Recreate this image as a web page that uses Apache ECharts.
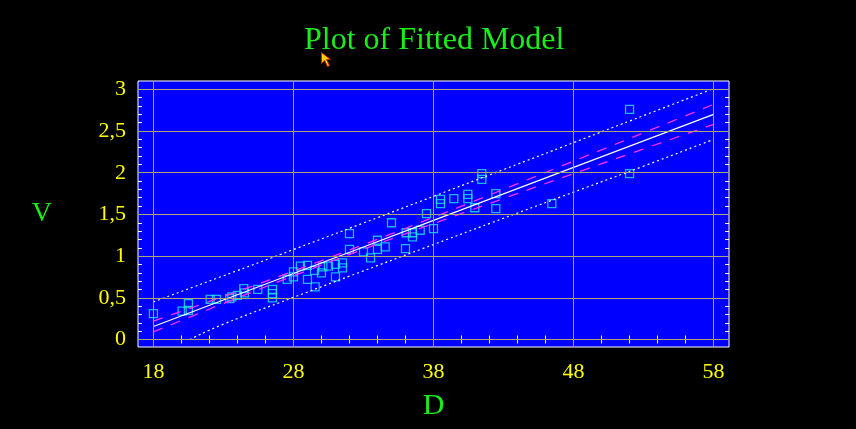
<!DOCTYPE html>
<html>
<head>
<meta charset="utf-8">
<script src="https://cdn.jsdelivr.net/npm/echarts@6/dist/echarts.min.js"></script>
<style>
html,body{margin:0;padding:0;background:#000;}
#chart{width:856px;height:429px;}
</style>
</head>
<body>
<div id="chart"></div>
<script>
// Observed data (D, V)
var D = [18.0, 20.05, 20.5, 20.5, 22.05, 22.5, 23.45, 23.6, 24.0, 24.45, 24.5, 25.45, 26.5, 26.5, 26.5, 27.55, 28.0, 28.0, 28.5, 29.0, 29.0, 29.5, 29.55, 30.0, 30.1, 30.5, 31.0, 31.0, 31.5, 31.5, 32.0, 32.0, 33.0, 33.5, 34.0, 34.0, 34.55, 35.0, 36.0, 36.05, 36.5, 36.5, 37.05, 37.5, 38.0, 38.5, 38.5, 39.45, 40.45, 40.45, 40.95, 41.45, 41.45, 42.45, 42.45, 46.45, 52.0, 52.0];
var V = [0.31, 0.34, 0.43, 0.35, 0.48, 0.48, 0.49, 0.51, 0.53, 0.61, 0.56, 0.60, 0.60, 0.55, 0.50, 0.72, 0.81, 0.75, 0.88, 0.89, 0.72, 0.83, 0.63, 0.80, 0.87, 0.88, 0.90, 0.75, 0.92, 0.86, 1.27, 1.08, 1.05, 0.98, 1.19, 1.08, 1.11, 1.40, 1.09, 1.28, 1.28, 1.23, 1.31, 1.51, 1.33, 1.68, 1.63, 1.69, 1.74, 1.69, 1.58, 1.99, 1.92, 1.75, 1.57, 1.63, 2.76, 1.99];

// Fitted line and limits
var bandX      = [18, 23, 28, 33, 38, 43, 48, 53, 58];
var fitV       = [0.156, 0.474, 0.792, 1.110, 1.428, 1.746, 2.064, 2.382, 2.700];
var confUpper  = [0.221, 0.516, 0.821, 1.137, 1.466, 1.801, 2.139, 2.479, 2.820];
var confLower  = [0.091, 0.432, 0.763, 1.083, 1.390, 1.691, 1.989, 2.285, 2.580];
var predUpper  = [0.451, 0.764, 1.079, 1.397, 1.717, 2.038, 2.361, 2.685, 3.010];
var predLowerX = [20.6, 23, 28, 33, 38, 43, 48, 53, 58];
var predLower  = [0.000, 0.184, 0.505, 0.823, 1.139, 1.454, 1.767, 2.079, 2.400];

// Tick labels
var xTicks = [18, 28, 38, 48, 58];
var yTicks = [0, 0.5, 1, 1.5, 2, 2.5, 3];

var xMinor = []; for (var i = 18; i <= 58; i += 2) xMinor.push(i);
var yMinor = []; for (var j = 0; j <= 30; j++) yMinor.push(+(j / 10).toFixed(1));

function pairs(xs, ys) { return xs.map(function (x, k) { return [x, ys[k]]; }); }

var serif = '"Liberation Serif", "Times New Roman", serif';
var yellow = '#ffff00';
var green = '#1aee1a';
var gridColor = '#a8a878';

function xAx(pos, labels) {
  return {
    type: 'value', min: 16.9, max: 59.1, position: pos,
    name: labels ? 'D' : '', nameLocation: 'middle', nameGap: 44,
    nameTextStyle: { color: green, fontSize: 30, fontFamily: serif },
    axisLine: { show: false },
    axisTick: { show: true, inside: true, length: 4, customValues: xMinor, lineStyle: { color: '#ffffff', width: 1 } },
    axisLabel: labels ? { show: true, customValues: xTicks, color: yellow, fontSize: 22, fontFamily: serif, margin: 14 } : { show: false },
    splitLine: { show: false }
  };
}
function yAx(pos, labels) {
  return {
    type: 'value', min: -0.09, max: 3.1, position: pos,
    name: labels ? 'V' : '', nameLocation: 'middle', nameGap: 86, nameRotate: 0,
    nameTextStyle: { color: green, fontSize: 28, fontFamily: serif },
    axisLine: { show: false },
    axisTick: { show: true, inside: true, length: 4, customValues: yMinor, lineStyle: { color: '#ffffff', width: 1 } },
    axisLabel: labels ? { show: true, customValues: yTicks, color: yellow, fontSize: 22, fontFamily: serif, margin: 12,
      formatter: function (v) { return String(v).replace('.', ','); } } : { show: false },
    splitLine: { show: false }
  };
}

var chart = echarts.init(document.getElementById('chart'), null, { renderer: 'canvas' });
chart.setOption({
  backgroundColor: '#000000',
  animation: false,
  title: {
    text: 'Plot of Fitted Model', left: 299, top: 20,
    textStyle: { color: green, fontSize: 32, fontWeight: 'normal', fontFamily: serif }
  },
  grid: {
    left: 138, right: 127, top: 81, bottom: 82,
    show: true, backgroundColor: '#0000ff', borderColor: '#ffffff', borderWidth: 1,
    containLabel: false, outerBoundsMode: 'none'
  },
  xAxis: [xAx('bottom', true), xAx('top', false)],
  yAxis: [yAx('left', true), yAx('right', false)],
  series: [
    {
      type: 'line', data: [], z: 1, silent: true,
      markLine: {
        silent: true, symbol: ['none', 'none'], label: { show: false },
        lineStyle: { color: gridColor, width: 1, type: 'solid' },
        emphasis: { disabled: true },
        data: xTicks.map(function (v) { return { xAxis: v }; }).concat(yTicks.map(function (v) { return { yAxis: v }; }))
      }
    },
    {
      type: 'scatter', data: pairs(D, V), z: 2, symbol: 'rect', symbolSize: 8,
      itemStyle: { color: 'rgba(0,0,0,0)', borderColor: '#22e6e6', borderWidth: 1.3 }
    },
    { type: 'line', data: pairs(bandX, predUpper), z: 3, symbol: 'none', smooth: true, lineStyle: { color: '#ffffff', width: 1.2, type: [2, 3] } },
    { type: 'line', data: pairs(predLowerX, predLower), z: 3, symbol: 'none', smooth: true, lineStyle: { color: '#ffffff', width: 1.2, type: [2, 3] } },
    { type: 'line', data: pairs(bandX, confUpper), z: 3, symbol: 'none', smooth: true, lineStyle: { color: '#ff30ff', width: 1.3, type: [10, 9] } },
    { type: 'line', data: pairs(bandX, confLower), z: 3, symbol: 'none', smooth: true, lineStyle: { color: '#ff30ff', width: 1.3, type: [10, 9] } },
    { type: 'line', data: pairs(bandX, fitV), z: 4, symbol: 'none', lineStyle: { color: '#ffffff', width: 1.2 } }
  ],
  graphic: [{
    type: 'polygon', left: 321, top: 52, z: 100,
    shape: { points: [[0, 0], [0, 11], [3, 8], [6, 14], [8, 13], [5, 7], [9, 7]] },
    style: { fill: '#ffd000', stroke: '#d02000', lineWidth: 1 }
  }]
});
</script>
</body>
</html>
